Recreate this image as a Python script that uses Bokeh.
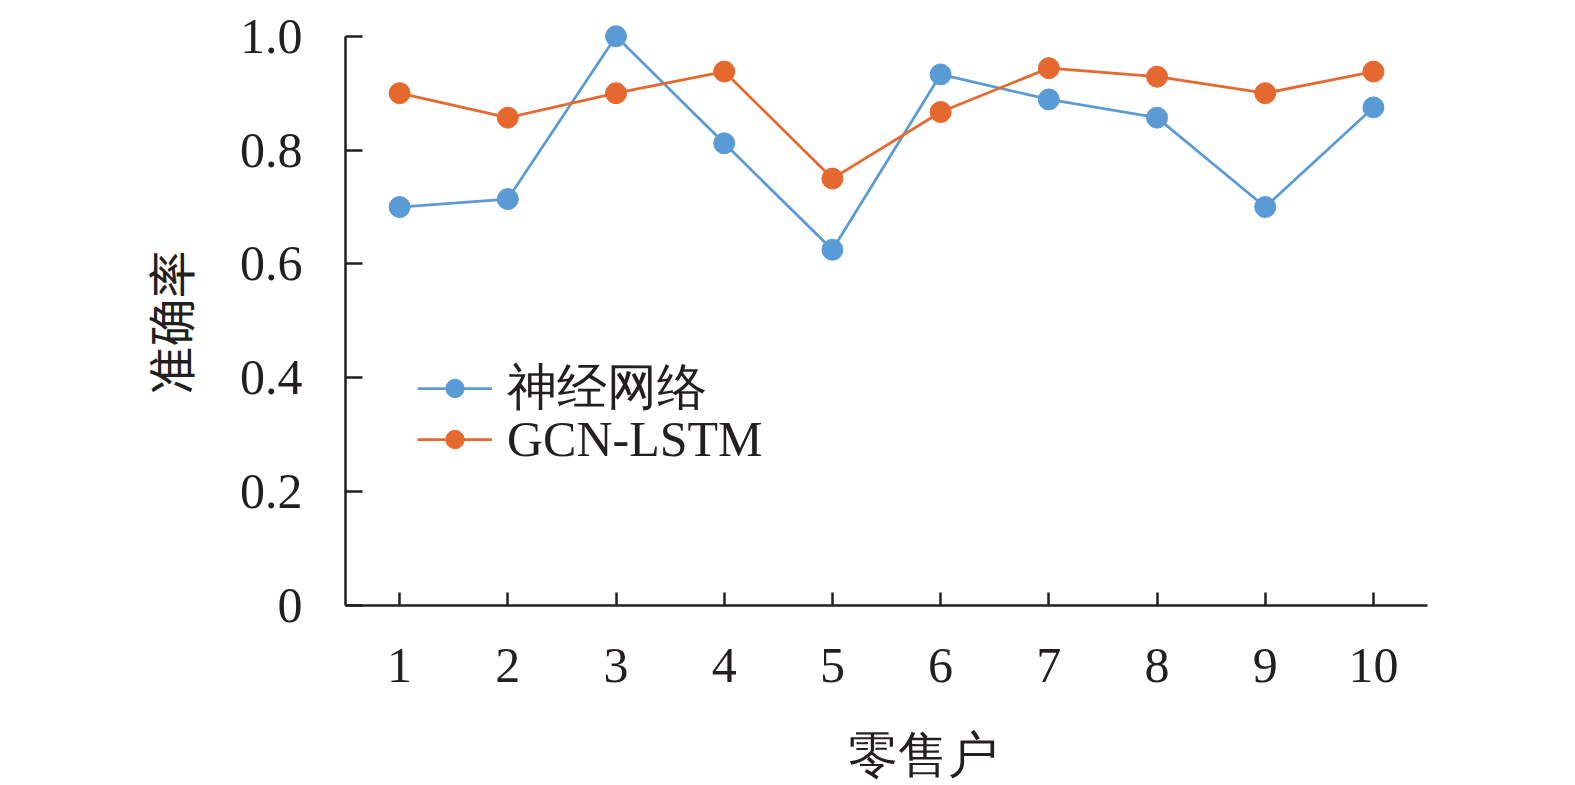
from bokeh.plotting import figure
from bokeh.models import Range1d, FixedTicker, Legend, LegendItem, Title
from bokeh.embed import file_html
from bokeh.resources import INLINE

# data
retailers = [1, 2, 3, 4, 5, 6, 7, 8, 9, 10]
nn_acc = [0.700, 0.714, 1.000, 0.812, 0.625, 0.933, 0.889, 0.857, 0.700, 0.875]
gcn_lstm_acc = [0.900, 0.857, 0.900, 0.938, 0.750, 0.867, 0.944, 0.929, 0.900, 0.938]
y_ticks = [0, 0.2, 0.4, 0.6, 0.8, 1.0]
y_tick_labels = ["0", "0.2", "0.4", "0.6", "0.8", "1.0"]
series_names = ["神经网络", "GCN-LSTM"]
x_title = "零售户"
y_title = "准确率"

BLUE = "#5B9BD5"
ORANGE = "#E5692F"
INK = "#231F20"
SERIF = "Liberation Serif"
CJK = "Noto Sans CJK SC"

# the frame extends a little past the drawn x axis (axis bounds stop at 10.5)
# so that the axis title is centred where the original has it
p = figure(width=1559, height=785, output_backend="svg", toolbar_location=None,
           x_range=Range1d(0.5, 11.165), y_range=Range1d(0, 1.04),
           min_border_left=345, min_border_right=60,
           min_border_top=13, min_border_bottom=177)
p.outline_line_color = None
p.xgrid.visible = False
p.ygrid.visible = False
p.background_fill_color = "white"
p.border_fill_color = "white"

r1l = p.line(retailers, nn_acc, line_color=BLUE, line_width=2.75)
r1s = p.scatter(retailers, nn_acc, size=21, fill_color=BLUE, line_color=BLUE)
r2l = p.line(retailers, gcn_lstm_acc, line_color=ORANGE, line_width=2.75)
r2s = p.scatter(retailers, gcn_lstm_acc, size=21, fill_color=ORANGE, line_color=ORANGE)

# axes
xa = p.xaxis[0]
xa.ticker = FixedTicker(ticks=retailers)
xa.bounds = (0.5, 10.5)
xa.axis_line_width = 2.5
xa.axis_line_color = INK
xa.major_tick_line_width = 2.5
xa.major_tick_line_color = INK
xa.major_tick_in = 13
xa.major_tick_out = 0
xa.minor_tick_line_color = None
xa.major_label_text_font = SERIF
xa.major_label_text_font_size = "50px"
xa.major_label_text_color = INK
xa.major_label_standoff = 43
xa.axis_label = x_title
xa.axis_label_text_font = SERIF
xa.axis_label_text_font_size = "50px"
xa.axis_label_text_font_style = "normal"
xa.axis_label_text_color = INK
xa.axis_label_standoff = 42

ya = p.yaxis[0]
ya.ticker = FixedTicker(ticks=y_ticks)
ya.major_label_overrides = {t: l for t, l in zip(y_ticks, y_tick_labels)}
ya.bounds = (0, 1)
ya.axis_line_width = 2.5
ya.axis_line_color = INK
ya.major_tick_line_width = 2.5
ya.major_tick_line_color = INK
ya.major_tick_in = 17
ya.major_tick_out = 0
ya.minor_tick_line_color = None
ya.major_label_text_font = SERIF
ya.major_label_text_font_size = "50px"
ya.major_label_text_color = INK
ya.major_label_standoff = 43

# y axis title as a side title so it can sit over the 0..1 span like the original
yt = Title(text=y_title, align="left", offset=211, standoff=66,
           text_font=CJK, text_font_size="48px", text_font_style="normal",
           text_color=INK)
p.add_layout(yt, "left")

legend_style = dict(orientation="vertical", glyph_width=75, glyph_height=46,
                    label_standoff=15, spacing=0, padding=0, margin=0,
                    border_line_color=None, background_fill_alpha=0,
                    label_text_font=SERIF, label_text_font_size="50px",
                    label_text_color=INK, label_height=46)
legend1 = Legend(items=[LegendItem(label=series_names[0], renderers=[r1l, r1s])],
                 location=(72, 184), **legend_style)
legend2 = Legend(items=[LegendItem(label=series_names[1], renderers=[r2l, r2s])],
                 location=(72, 137), **legend_style)
p.add_layout(legend1)
p.add_layout(legend2)

open("out.html", "w").write(file_html(p, INLINE))
